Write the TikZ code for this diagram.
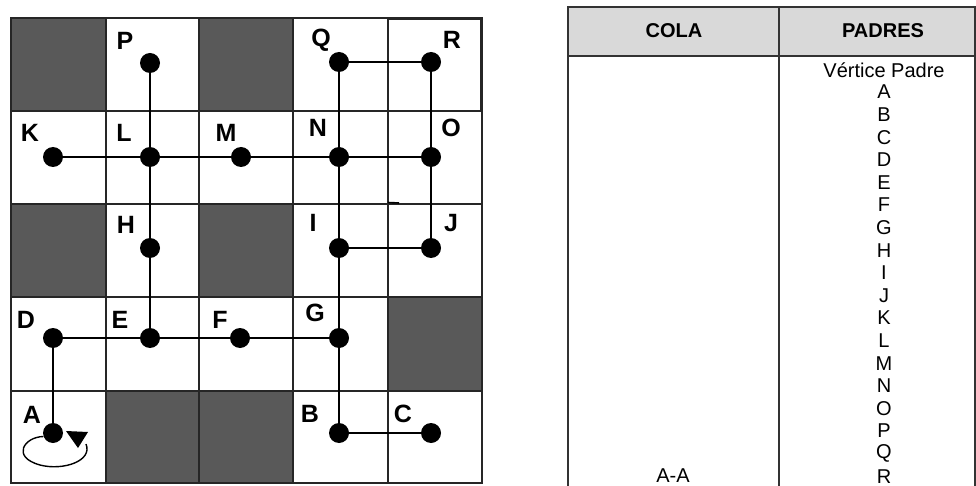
\documentclass[tikz,border=0pt]{standalone}
\usepackage{fontspec}
\setmainfont{Liberation Sans}
\definecolor{cellgray}{HTML}{595959}
\definecolor{headgray}{HTML}{D9D9D9}
\begin{document}
\begin{tikzpicture}[x=1pt,y=-1pt,
  dot/.style={circle,fill=black,inner sep=0pt,minimum size=20pt},
  lbl/.style={inner sep=0pt,font=\fontsize{25}{25}\selectfont\bfseries},
  edge/.style={line width=1.4pt,black},
  gridline/.style={line width=1.2pt,draw=black!85},
  boldframe/.style={line width=2.6pt,draw=black!85},
  tabline/.style={line width=1.3pt,draw=black!80},
  hdr/.style={inner sep=0pt,font=\fontsize{20}{20}\selectfont\bfseries},
  entry/.style={inner sep=0pt,font=\fontsize{20}{20}\selectfont},
]
\useasboundingbox (0,0) rectangle (976,486);
\clip (0,0) rectangle (976,486);
% dark cells
\foreach \xa/\ya/\xb/\yb in {11/18/106/111, 199/18/293/111, 11/204/106/297, 199/204/293/297, 388/297/482/391, 106/391/199/483, 199/391/293/483}
  \fill[cellgray] (\xa,\ya) rectangle (\xb,\yb);
% grid lines
\foreach \gx in {106,199,293,388}
  \draw[gridline] (\gx,18) -- (\gx,483);
\foreach \gy in {111,204,297,391}
  \draw[gridline] (11,\gy) -- (482,\gy);
\draw[line width=1.8pt,draw=black!85] (11,18) rectangle (482,483);
\draw[boldframe] (388,19) rectangle (481,111);
\draw[boldframe] (11,391) rectangle (106,483);
\draw[line width=1.6pt] (388,202.5) -- (399,203);
% vertices
\node[dot] (vP) at (150,63) {};
\node[dot] (vL) at (150,157) {};
\node[dot] (vK) at (53,157) {};
\node[dot] (vM) at (241,157) {};
\node[dot] (vN) at (339,157) {};
\node[dot] (vO) at (431,157) {};
\node[dot] (vQ) at (339,62) {};
\node[dot] (vR) at (431,62) {};
\node[dot] (vH) at (150,248) {};
\node[dot] (vI) at (339,248) {};
\node[dot] (vJ) at (431,248) {};
\node[dot] (vD) at (53,338) {};
\node[dot] (vE) at (150,338) {};
\node[dot] (vF) at (240,338) {};
\node[dot] (vG) at (339,338) {};
\node[dot] (vA) at (53,433) {};
\node[dot] (vB) at (339,433) {};
\node[dot] (vC) at (431,433) {};
% labels
\node[lbl] (lP) at (125,41) {P};
\node[lbl] (lK) at (30,133) {K};
\node[lbl] (lL) at (124,133) {L};
\node[lbl] (lM) at (226,133) {M};
\node[lbl] (lH) at (126,225) {H};
\node[lbl] (lQ) at (321,40) {Q};
\node[lbl] (lR) at (452,40) {R};
\node[lbl] (lN) at (318,128) {N};
\node[lbl] (lO) at (451,128) {O};
\node[lbl] (lI) at (313,223) {I};
\node[lbl] (lJ) at (451,223) {J};
\node[lbl] (lD) at (26,320) {D};
\node[lbl] (lE) at (120,320) {E};
\node[lbl] (lF) at (220,320) {F};
\node[lbl] (lG) at (315,313) {G};
\node[lbl] (lA) at (32,415) {A};
\node[lbl] (lB) at (310,414) {B};
\node[lbl] (lC) at (403,414) {C};
% connectors
\draw[edge] (vP) -- (vL);
\draw[edge] (vL) -- (vH);
\draw[edge] (vH) -- (vE);
\draw[edge] (vK) -- (vL);
\draw[edge] (vL) -- (vM);
\draw[edge] (vM) -- (vN);
\draw[edge] (vN) -- (vO);
\draw[edge] (vQ) -- (vR);
\draw[edge] (vQ) -- (vN);
\draw[edge] (vN) -- (vI);
\draw[edge] (vI) -- (vG);
\draw[edge] (vG) -- (vB);
\draw[edge] (vR) -- (vO);
\draw[edge] (vO) -- (vJ);
\draw[edge] (vI) -- (vJ);
\draw[edge] (vD) -- (vE);
\draw[edge] (vE) -- (vF);
\draw[edge] (vF) -- (vG);
\draw[edge] (vD) -- (vA);
\draw[edge] (vB) -- (vC);
% self loop at A
\coordinate (loopend) at (86,444);
\draw[line width=1.4pt] (vA.200) .. controls (24,437) and (11,457) .. (40,465)
  .. controls (63,471) and (93,461) .. (loopend);
\fill (66,431) -- (88,432) -- (78,448) -- cycle;
% table
\fill[headgray] (568,7) rectangle (975,56);
\draw[tabline] (568,495) -- (568,7) -- (975,7) -- (975,495);
\draw[tabline] (568,56) -- (975,56);
\draw[tabline] (779,7) -- (779,495);
\node[hdr] (cola) at (674,31) {COLA};
\node[hdr] (padres) at (883,31) {PADRES};
\node[entry] (vp) at (884,70) {Vértice Padre};
\foreach \L [count=\i from 0] in {A,B,C,D,E,F,G,H,I,J,K,L,M,N,O,P,Q,R}
  \node[entry] (p\L) at (884,{92+22.6*\i}) {\L};
\node[entry] (aa) at (673,476) {A-A};
\end{tikzpicture}
\end{document}
